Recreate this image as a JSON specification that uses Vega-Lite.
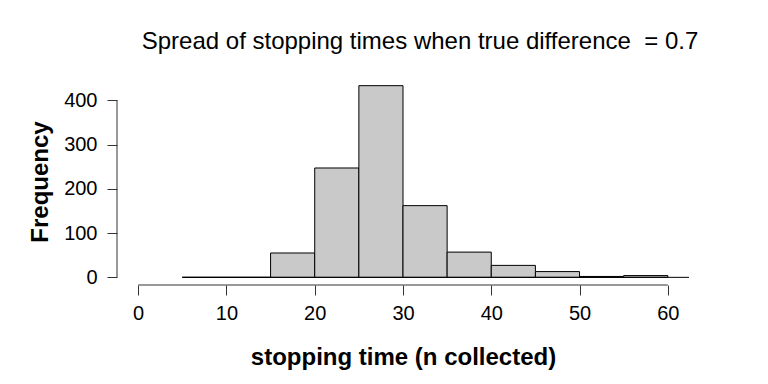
{
  "$schema": "https://vega.github.io/schema/vega-lite/v6.json",
  "width": 572,
  "height": 207,
  "autosize": {"type": "none"},
  "padding": {"left": 117, "top": 78, "right": 79, "bottom": 99},
  "background": "white",
  "config": {"view": {"stroke": null}, "font": "Liberation Sans"},
  "title": {
    "text": "Spread of stopping times when true difference\u00a0 = 0.7",
    "font": "Liberation Sans",
    "fontSize": 24,
    "fontWeight": "normal",
    "color": "black",
    "anchor": "middle",
    "dx": 17,
    "offset": 24
  },
  "datasets": {
    "bins": [
      {"start": 5, "end": 10, "count": 0},
      {"start": 10, "end": 15, "count": 0},
      {"start": 15, "end": 20, "count": 55},
      {"start": 20, "end": 25, "count": 247},
      {"start": 25, "end": 30, "count": 433},
      {"start": 30, "end": 35, "count": 162},
      {"start": 35, "end": 40, "count": 57},
      {"start": 40, "end": 45, "count": 27},
      {"start": 45, "end": 50, "count": 13},
      {"start": 50, "end": 55, "count": 2},
      {"start": 55, "end": 60, "count": 4}
    ],
    "xaxis": [{"a": 0, "b": 60, "y": -17.3}],
    "yaxis": [{"x": -2.4, "a": 0, "b": 400}],
    "base": [{"a": 5, "b": 62.4, "y": 0}]
  },
  "layer": [
    {
      "data": {"name": "bins"},
      "mark": {"type": "rect", "fill": "#c9c9c9", "stroke": "black", "strokeWidth": 1},
      "encoding": {
        "x": {
          "field": "start", "type": "quantitative",
          "scale": {"domain": [-2.4, 62.4], "nice": false, "zero": false},
          "axis": {
            "values": [0, 10, 20, 30, 40, 50, 60],
            "title": "stopping time (n collected)",
            "titleFont": "Liberation Sans", "titleFontSize": 24, "titleFontWeight": "bold",
            "titleColor": "black", "titlePadding": 22,
            "labelFont": "Liberation Sans", "labelFontSize": 20, "labelColor": "black",
            "labelPadding": 8, "labelFlush": false,
            "domain": false, "grid": false,
            "tickColor": "#333", "tickSize": 10, "tickWidth": 1
          }
        },
        "x2": {"field": "end"},
        "y": {
          "field": "count", "type": "quantitative",
          "scale": {"domain": [-17.3, 450.3], "nice": false, "zero": false},
          "axis": {
            "values": [0, 100, 200, 300, 400],
            "title": "Frequency",
            "titleFont": "Liberation Sans", "titleFontSize": 24, "titleFontWeight": "bold",
            "titleColor": "black", "titlePadding": 11,
            "labelFont": "Liberation Sans", "labelFontSize": 20, "labelColor": "black",
            "labelPadding": 10, "labelFlush": false,
            "domain": false, "grid": false,
            "tickColor": "#333", "tickSize": 10, "tickWidth": 1
          }
        },
        "y2": {"datum": 0}
      }
    },
    {
      "data": {"name": "xaxis"},
      "mark": {"type": "rule", "color": "#333", "strokeWidth": 1},
      "encoding": {
        "x": {"field": "a", "type": "quantitative"},
        "x2": {"field": "b"},
        "y": {"field": "y", "type": "quantitative"}
      }
    },
    {
      "data": {"name": "yaxis"},
      "mark": {"type": "rule", "color": "#333", "strokeWidth": 1},
      "encoding": {
        "x": {"field": "x", "type": "quantitative"},
        "y": {"field": "a", "type": "quantitative"},
        "y2": {"field": "b"}
      }
    },
    {
      "data": {"name": "base"},
      "mark": {"type": "rule", "color": "black", "strokeWidth": 1},
      "encoding": {
        "x": {"field": "a", "type": "quantitative"},
        "x2": {"field": "b"},
        "y": {"field": "y", "type": "quantitative"}
      }
    }
  ]
}
